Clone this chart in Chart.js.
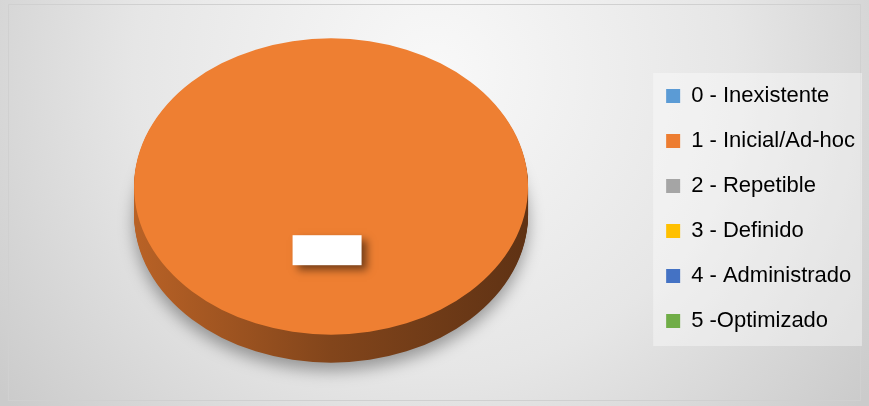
<!DOCTYPE html>
<html>
<head>
<meta charset="utf-8">
<script src="https://cdn.jsdelivr.net/npm/chart.js@4"></script>
<style>
  html, body { margin: 0; padding: 0; background: #fff; }
  #wrap { width: 869px; height: 406px; }
</style>
</head>
<body>
<div id="wrap"><canvas id="myChart"></canvas></div>
<script>
// chart data
const categories = ['0 - Inexistente', '1 - Inicial/Ad-hoc', '2 - Repetible', '3 - Definido', '4 - Administrado', '5 -Optimizado'];
const values = [0, 100, 0, 0, 0, 0];
const colors = ['#5b9bd5', '#ed7d31', '#a5a5a5', '#ffc000', '#4472c4', '#70ad47'];

// 3d look
const tilt = 0.752;   // vertical squash of the pie
const depth = 28;     // thickness of the pie
const lift = -22;     // move the top face up a bit so the side fits

function shade(hex, f) {
  const n = parseInt(hex.slice(1), 16);
  const r = Math.round(((n >> 16) & 255) * f), g = Math.round(((n >> 8) & 255) * f), b = Math.round((n & 255) * f);
  return 'rgb(' + r + ',' + g + ',' + b + ')';
}

const backdrop = {
  id: 'backdrop',
  beforeDraw(chart) {
    const ctx = chart.ctx, w = chart.width, h = chart.height;
    ctx.save();
    const g = ctx.createRadialGradient(w * 0.5, h * 0.18, 10, w * 0.5, h * 0.18, w * 0.62);
    g.addColorStop(0, '#f8f8f8');
    g.addColorStop(0.55, '#e6e6e6');
    g.addColorStop(1, '#cbcbcb');
    ctx.fillStyle = g;
    ctx.fillRect(0, 0, w, h);
    ctx.strokeStyle = '#d0d0d0';
    ctx.lineWidth = 1;
    ctx.strokeRect(8.5, 4.5, w - 17, h - 10);

    // legend panel
    const boxes = chart.legend.legendHitBoxes;
    if (boxes && boxes.length) {
      const l = Math.min(...boxes.map(b => b.left)) - 13;
      const t = Math.min(...boxes.map(b => b.top)) - 12;
      const b = Math.max(...boxes.map(b => b.top + b.height)) + 14;
      const r = w - 7;
      ctx.fillStyle = 'rgba(255,255,255,0.38)';
      ctx.fillRect(l, t, r - l, b - t);
    }
    ctx.restore();
  }
};

const pie3d = {
  id: 'pie3d',
  beforeDatasetsDraw(chart) {
    const ctx = chart.ctx;
    const arcs = chart.getDatasetMeta(0).data;
    const cx = arcs[0].x, cy = arcs[0].y, r = arcs[0].outerRadius;
    ctx.save();
    ctx.translate(cx, cy + lift);
    ctx.scale(1, tilt);
    ctx.translate(-cx, -cy);

    // side of the pie, stacked from the bottom up
    for (let d = depth; d > 0; d--) {
      arcs.forEach((a, i) => {
        if (a.endAngle - a.startAngle <= 0) return;
        const grad = ctx.createLinearGradient(cx - r, 0, cx + r, 0);
        grad.addColorStop(0, shade(colors[i], 0.78));
        grad.addColorStop(0.5, shade(colors[i], 0.55));
        grad.addColorStop(1, shade(colors[i], 0.40));
        ctx.save();
        if (d === depth) {
          ctx.shadowColor = 'rgba(0,0,0,0.35)';
          ctx.shadowBlur = 16;
          ctx.shadowOffsetY = 8;
        }
        ctx.fillStyle = grad;
        ctx.beginPath();
        ctx.moveTo(a.x, a.y + d / tilt);
        ctx.arc(a.x, a.y + d / tilt, a.outerRadius, a.startAngle, a.endAngle);
        ctx.closePath();
        ctx.fill();
        ctx.restore();
      });
    }
  },
  afterDatasetsDraw(chart) {
    const ctx = chart.ctx;
    ctx.restore();

    // data label boxes
    const arcs = chart.getDatasetMeta(0).data;
    arcs.forEach(a => {
      if (a.endAngle - a.startAngle <= 0) return;
      const mid = (a.startAngle + a.endAngle) / 2;
      const k = 0.43;
      const x = a.x + Math.cos(mid) * a.outerRadius * k;
      const y = a.y + lift + Math.sin(mid) * a.outerRadius * k * tilt;
      const bw = 69, bh = 30;
      ctx.save();
      ctx.shadowColor = 'rgba(0,0,0,0.5)';
      ctx.shadowBlur = 8;
      ctx.shadowOffsetX = 5;
      ctx.shadowOffsetY = 5;
      ctx.fillStyle = '#ffffff';
      ctx.fillRect(x - bw / 2 - 4, y - bh / 2, bw, bh);
      ctx.restore();
    });
  }
};

document.addEventListener('DOMContentLoaded', () => {
  const ctx = document.getElementById('myChart').getContext('2d');
  new Chart(ctx, {
    type: 'pie',
    data: {
      labels: categories,
      datasets: [{
        data: values,
        backgroundColor: '#ee7f32',
        borderWidth: 0,
        clip: false
      }]
    },
    options: {
      responsive: true,
      maintainAspectRatio: false,
      animation: false,
      radius: 197,
      layout: { padding: { left: 19, right: 4, top: 14, bottom: 3 } },
      plugins: {
        legend: {
          position: 'right',
          labels: {
            boxWidth: 14,
            boxHeight: 14,
            padding: 23,
            color: '#4a4a4a',
            font: { family: 'Liberation Sans, Arial', size: 22 },
            generateLabels: (chart) => categories.map((c, i) => ({
              text: c,
              fillStyle: colors[i],
              strokeStyle: colors[i],
              lineWidth: 0,
              hidden: false,
              index: i
            }))
          }
        },
        tooltip: { enabled: false }
      }
    },
    plugins: [backdrop, pie3d]
  });
});
</script>
</body>
</html>
